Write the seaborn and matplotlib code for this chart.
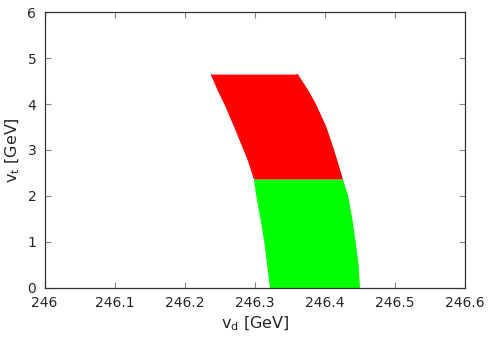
import numpy as np
import matplotlib
matplotlib.use("Agg")
import matplotlib.pyplot as plt
import pandas as pd
import seaborn as sns

# boundaries of the allowed region
vt_green = [0.0, 0.5, 1.0, 1.5, 2.0, 2.37]
vd_green_left = [246.3225, 246.3185, 246.3144, 246.309, 246.303, 246.2995]
vd_green_right = [246.4489, 246.447, 246.4428, 246.438, 246.432, 246.4245]

vt_red = [2.37, 2.75, 3.0, 3.5, 4.0, 4.3, 4.65]
vd_red_left = [246.2995, 246.2915, 246.285, 246.2715, 246.2575, 246.2478, 246.238]
vd_red_right = [246.4245, 246.417, 246.412, 246.401, 246.386, 246.375, 246.360]

x_ticks = [246, 246.1, 246.2, 246.3, 246.4, 246.5, 246.6]
y_ticks = [0, 1, 2, 3, 4, 5, 6]

sns.set_theme(style="ticks")
plt.rcParams['font.family'] = ['DejaVu Sans']

fig = plt.figure(figsize=(4.99, 3.44), dpi=100)
ax = fig.add_axes([0.0894, 0.163, 0.8426, 0.802])

green = pd.DataFrame({"vt": vt_green, "left": vd_green_left, "right": vd_green_right})
red = pd.DataFrame({"vt": vt_red, "left": vd_red_left, "right": vd_red_right})

for df, col in [(green, "#00ff00"), (red, "#ff0000")]:
    ax.fill_betweenx(df["vt"], df["left"], df["right"], color=col, lw=0)
    for side in ["left", "right"]:
        sns.lineplot(x=df[side], y=df["vt"], sort=False, color=col, lw=1.0,
                     solid_capstyle="butt", solid_joinstyle="round", ax=ax)

ax.set_xlim(246, 246.6)
ax.set_ylim(0, 6)
ax.set_xticks(x_ticks)
ax.set_xticklabels([f"{t:g}" for t in x_ticks])
ax.set_yticks(y_ticks)
ax.tick_params(direction="in", length=4, width=0.8, color="#888888",
               labelsize=10, top=True, right=True, pad=6)
for s in ax.spines.values():
    s.set_color("#333333")
    s.set_linewidth(0.9)

ax.set_xlabel(r"v$_\mathrm{d}$ [GeV]", fontsize=11.5, labelpad=3)
ax.set_ylabel(r"v$_\mathrm{t}$ [GeV]", fontsize=11.5, labelpad=4)

fig.savefig("out.png", dpi=100)
